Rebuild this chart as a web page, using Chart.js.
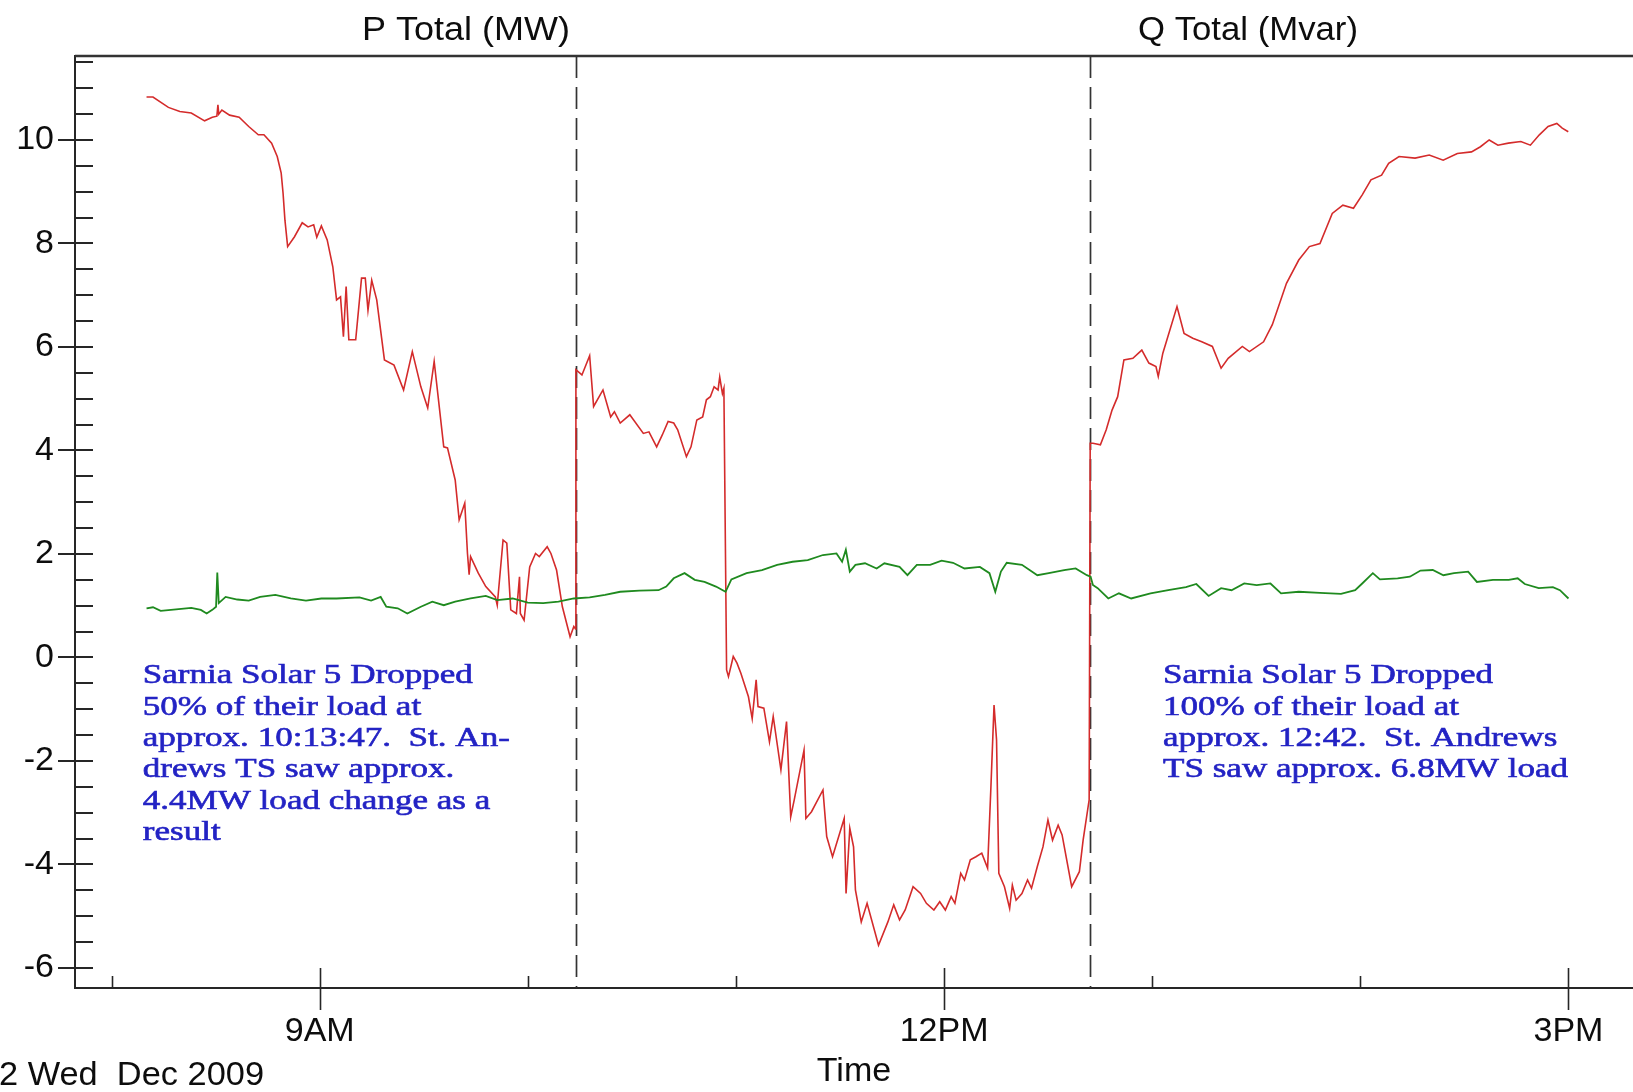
<!DOCTYPE html>
<html>
<head>
<meta charset="utf-8">
<script src="https://cdn.jsdelivr.net/npm/chart.js@4.4.1/dist/chart.umd.min.js"></script>
<style>
html,body{margin:0;padding:0;background:#fff;overflow:hidden}
#wrap{width:1633px;height:1092px;position:relative}
</style>
</head>
<body>
<div id="wrap"><canvas id="c" width="1633" height="1092"></canvas></div>
<script>
// ---------- data (hours of day, values) ----------
const pHours = [8.168,8.199,8.273,8.328,8.383,8.447,8.484,8.506,8.511,8.515,8.530,8.567,8.613,8.659,8.705,8.732,8.769,8.796,8.815,8.824,8.833,8.846,8.879,8.916,8.944,8.971,8.986,9.008,9.036,9.063,9.081,9.100,9.114,9.127,9.140,9.173,9.201,9.219,9.232,9.250,9.274,9.311,9.357,9.403,9.445,9.486,9.519,9.550,9.569,9.596,9.614,9.651,9.670,9.697,9.710,9.718,9.725,9.762,9.798,9.844,9.853,9.881,9.899,9.918,9.945,9.960,9.964,9.982,10.009,10.037,10.055,10.093,10.111,10.138,10.166,10.203,10.221,10.229,10.231,10.260,10.297,10.316,10.361,10.398,10.416,10.444,10.490,10.555,10.582,10.619,10.646,10.674,10.701,10.720,10.762,10.784,10.812,10.840,10.858,10.877,10.895,10.914,10.922,10.935,10.942,10.955,10.964,10.987,11.005,11.024,11.060,11.078,11.097,11.106,11.134,11.161,11.179,11.216,11.243,11.263,11.280,11.327,11.336,11.363,11.418,11.436,11.464,11.520,11.529,11.547,11.565,11.574,11.602,11.630,11.685,11.730,11.758,11.786,11.813,11.851,11.887,11.915,11.951,11.979,12.006,12.034,12.052,12.080,12.098,12.126,12.153,12.181,12.209,12.225,12.240,12.252,12.263,12.290,12.315,12.328,12.346,12.374,12.401,12.420,12.448,12.475,12.499,12.521,12.548,12.567,12.613,12.650,12.668,12.697,12.702,12.715,12.751,12.779,12.807,12.834,12.864,12.907,12.950,12.984,13.018,13.029,13.051,13.119,13.153,13.195,13.238,13.289,13.331,13.365,13.433,13.467,13.535,13.577,13.645,13.704,13.755,13.806,13.865,13.916,13.967,14.009,14.051,14.102,14.136,14.186,14.263,14.331,14.398,14.466,14.534,14.577,14.619,14.661,14.711,14.771,14.817,14.860,14.902,14.944,14.970,14.999];
const pValues = [10.83,10.83,10.63,10.55,10.52,10.37,10.44,10.46,10.68,10.50,10.58,10.48,10.44,10.26,10.10,10.10,9.94,9.68,9.36,8.97,8.45,7.94,8.13,8.40,8.32,8.36,8.12,8.34,8.07,7.55,6.91,6.97,6.20,7.17,6.14,6.14,7.33,7.33,6.71,7.29,6.91,5.75,5.65,5.17,5.91,5.23,4.82,5.72,5.04,4.07,4.05,3.43,2.66,2.98,2.01,1.60,1.95,1.63,1.37,1.17,1.01,2.27,2.21,0.92,0.85,1.56,0.85,0.72,1.75,2.01,1.95,2.14,2.01,1.69,0.98,0.40,0.60,0.55,5.56,5.46,5.83,4.85,5.17,4.65,4.75,4.53,4.69,4.33,4.36,4.07,4.30,4.56,4.53,4.40,3.88,4.07,4.59,4.65,4.98,5.04,5.23,5.17,5.42,5.10,5.20,-0.24,-0.37,0.02,-0.11,-0.31,-0.76,-1.18,-0.43,-0.95,-0.98,-1.63,-1.14,-2.17,-1.24,-3.08,-2.75,-1.79,-3.11,-2.98,-2.56,-3.46,-3.85,-3.11,-4.56,-3.30,-3.66,-4.49,-5.11,-4.75,-5.56,-5.11,-4.78,-5.07,-4.88,-4.43,-4.56,-4.75,-4.88,-4.72,-4.88,-4.62,-4.75,-4.17,-4.30,-3.91,-3.85,-3.78,-4.07,-2.50,-0.92,-1.59,-4.17,-4.43,-4.85,-4.40,-4.69,-4.56,-4.30,-4.46,-4.04,-3.66,-3.14,-3.53,-3.24,-3.43,-4.43,-4.14,-3.53,-2.75,4.14,4.14,4.11,4.40,4.78,5.04,5.75,5.78,5.94,5.69,5.62,5.43,5.88,6.78,6.26,6.17,6.10,6.01,5.59,5.78,6.01,5.91,6.10,6.43,7.23,7.68,7.94,8.00,8.58,8.74,8.68,8.94,9.23,9.32,9.55,9.68,9.65,9.71,9.61,9.74,9.77,9.87,10.00,9.90,9.94,9.97,9.90,10.10,10.26,10.32,10.23,10.16];

const qHours = [8.168,8.199,8.236,8.310,8.383,8.429,8.457,8.484,8.502,8.508,8.515,8.548,8.604,8.659,8.714,8.787,8.861,8.934,9.008,9.081,9.191,9.247,9.293,9.320,9.375,9.421,9.486,9.541,9.596,9.651,9.725,9.798,9.853,9.927,10.000,10.074,10.147,10.221,10.297,10.371,10.444,10.536,10.628,10.665,10.701,10.753,10.802,10.849,10.904,10.950,10.978,11.051,11.125,11.198,11.272,11.345,11.418,11.483,11.510,11.528,11.547,11.574,11.620,11.676,11.713,11.786,11.824,11.869,11.933,11.988,12.043,12.098,12.172,12.218,12.246,12.273,12.301,12.374,12.448,12.503,12.577,12.632,12.686,12.704,12.715,12.738,12.789,12.840,12.899,12.992,13.077,13.162,13.212,13.271,13.331,13.381,13.442,13.502,13.568,13.619,13.704,13.806,13.907,13.975,14.009,14.060,14.094,14.179,14.238,14.289,14.348,14.399,14.450,14.518,14.560,14.637,14.713,14.756,14.790,14.857,14.925,14.959,15.000];
const qValues = [0.95,0.97,0.90,0.93,0.96,0.92,0.85,0.92,0.98,1.64,1.05,1.17,1.12,1.10,1.17,1.21,1.14,1.10,1.14,1.14,1.16,1.10,1.17,0.98,0.95,0.85,0.98,1.08,1.01,1.08,1.14,1.19,1.11,1.14,1.06,1.05,1.08,1.14,1.16,1.21,1.27,1.29,1.30,1.37,1.53,1.63,1.50,1.46,1.37,1.27,1.51,1.63,1.69,1.79,1.85,1.88,1.98,2.01,1.85,2.08,1.66,1.79,1.82,1.72,1.82,1.75,1.59,1.79,1.79,1.87,1.83,1.72,1.75,1.63,1.27,1.66,1.83,1.79,1.59,1.63,1.69,1.72,1.59,1.56,1.40,1.34,1.14,1.24,1.14,1.24,1.30,1.36,1.42,1.19,1.34,1.30,1.43,1.40,1.43,1.24,1.27,1.25,1.23,1.30,1.43,1.63,1.51,1.53,1.56,1.68,1.69,1.59,1.63,1.66,1.46,1.50,1.50,1.53,1.42,1.34,1.36,1.30,1.14];

const eventHours = [10 + 13/60 + 47/3600, 12 + 42/60];   // 10:13:47 and 12:42
const xTickHours = [8, 9, 10, 11, 12, 13, 14, 15];
const xTickLabels = {9: '9AM', 12: '12PM', 15: '3PM'};
const xRange = [7.8243, 15.31];
const yRange = [-6.387, 11.623];
const yMinorStep = 0.5;
const yLabelStep = 2;

const seriesTitles = ['P Total (MW)', 'Q Total (Mvar)'];
const xTitle = 'Time';
const dateText = '2 Wed  Dec 2009';
const noteLeft = ['Sarnia Solar 5 Dropped', '50% of their load at', 'approx. 10:13:47.  St. An-', 'drews TS saw approx.', '4.4MW load change as a', 'result'];
const noteRight = ['Sarnia Solar 5 Dropped', '100% of their load at', 'approx. 12:42.  St. Andrews', 'TS saw approx. 6.8MW load'];

// ---------- chart ----------
const SANS = '"Liberation Sans", Arial, sans-serif';
const SERIF = '"Liberation Serif", "Times New Roman", serif';
const AXIS = '#262626';
const TXT = '#0d0d0d';

const toPts = (hs, vs) => hs.map((h, i) => ({x: h, y: vs[i]}));

function drawText(ctx, text, x, y, font, color, targetW, sxIn, strokeW) {
  ctx.save();
  ctx.font = font; ctx.fillStyle = color; ctx.strokeStyle = color;
  ctx.textAlign = 'left'; ctx.textBaseline = 'alphabetic';
  const sx = sxIn || (targetW ? targetW / ctx.measureText(text).width : 1);
  ctx.translate(x, y); ctx.scale(sx, 1);
  ctx.fillText(text, 0, 0);
  if (strokeW) { ctx.lineWidth = strokeW; ctx.strokeText(text, 0, 0); }
  ctx.restore();
}

const decor = {
  id: 'decor',
  beforeDatasetsDraw(chart) {
    const {ctx, chartArea: a, scales: {x, y}} = chart;
    ctx.save();
    // event dashed lines
    ctx.strokeStyle = '#333'; ctx.lineWidth = 1.7; ctx.setLineDash([22, 9]);
    eventHours.forEach(h => {
      const px = Math.round(x.getPixelForValue(h)) + 0.5;
      ctx.beginPath(); ctx.moveTo(px, a.top); ctx.lineTo(px, a.bottom); ctx.stroke();
    });
    ctx.setLineDash([]);
    // top frame line
    ctx.strokeStyle = '#333'; ctx.lineWidth = 2.5;
    ctx.beginPath(); ctx.moveTo(a.left, a.top); ctx.lineTo(a.right, a.top); ctx.stroke();
    // y tick marks
    ctx.strokeStyle = AXIS; ctx.lineWidth = 2;
    y.ticks.forEach(t => {
      const py = Math.round(y.getPixelForValue(t.value));
      const major = t.label !== '';
      ctx.beginPath();
      ctx.moveTo(a.left - (major ? 17 : 0), py);
      ctx.lineTo(a.left + 18, py);
      ctx.stroke();
    });
    // x tick marks
    ctx.lineWidth = 1.6;
    x.ticks.forEach(t => {
      const px = Math.round(x.getPixelForValue(t.value)) + 0.5;
      const major = t.label !== '';
      ctx.beginPath();
      ctx.moveTo(px, a.bottom - (major ? 20 : 12));
      ctx.lineTo(px, a.bottom + (major ? 22 : 0));
      ctx.stroke();
    });
    ctx.restore();
  },
  afterDraw(chart) {
    const {ctx, scales: {x, y}} = chart;
    // series titles above the plot
    const tFont = '34px ' + SANS;
    drawText(ctx, seriesTitles[0], 362, 40, tFont, TXT, 208);
    drawText(ctx, seriesTitles[1], 1138, 40, tFont, TXT, 220);
    // date at bottom left
    drawText(ctx, dateText, -1, 1085, tFont, TXT, 265);
    // annotations
    const nFont = '27px ' + SERIF;
    ctx.save(); ctx.font = nFont;
    const sx = 330 / ctx.measureText(noteLeft[0]).width;
    ctx.restore();
    const base = y.getPixelForValue(-0.5);
    const lh = 31.3;
    const blue = '#2323c4';
    const xl = x.getPixelForValue(8.15);
    noteLeft.forEach((s, i) => drawText(ctx, s, xl, base + i * lh, nFont, blue, 0, sx, 0.6));
    const xr = x.getPixelForValue(13.052);
    noteRight.forEach((s, i) => drawText(ctx, s, xr, base + i * lh, nFont, blue, 0, sx, 0.6));
  }
};

new Chart(document.getElementById('c'), {
  type: 'line',
  data: {
    datasets: [
      {label: seriesTitles[1], data: toPts(qHours, qValues), borderColor: '#1f8a1f', borderWidth: 1.8, pointRadius: 0, tension: 0},
      {label: seriesTitles[0], data: toPts(pHours, pValues), borderColor: '#d42b2b', borderWidth: 1.6, pointRadius: 0, tension: 0}
    ]
  },
  options: {
    responsive: false,
    animation: false,
    devicePixelRatio: 1,
    layout: {padding: {top: 56, right: 0, left: 0, bottom: 0}},
    plugins: {legend: {display: false}, tooltip: {enabled: false}, title: {display: false}},
    scales: {
      x: {
        type: 'linear', min: xRange[0], max: xRange[1],
        afterBuildTicks: s => { s.ticks = xTickHours.map(v => ({value: v})); },
        afterFit: s => { s.height = 104; },
        ticks: {autoSkip: false, maxRotation: 0, padding: 23, color: TXT,
                font: {family: SANS, size: 34},
                callback: v => xTickLabels[v] || ''},
        grid: {display: false, drawTicks: false},
        border: {display: true, color: AXIS, width: 2},
        title: {display: true, text: xTitle, color: TXT, font: {family: SANS, size: 34}, padding: {top: 0, bottom: 0}}
      },
      y: {
        type: 'linear', min: yRange[0], max: yRange[1],
        afterBuildTicks: s => {
          const t = [];
          for (let v = Math.ceil(yRange[0] / yMinorStep) * yMinorStep; v <= yRange[1] + 1e-9; v += yMinorStep) t.push({value: Math.round(v * 10) / 10});
          s.ticks = t;
        },
        afterFit: s => { s.width = 75; },
        ticks: {autoSkip: false, padding: 21, color: TXT, font: {family: SANS, size: 34},
                callback: v => (Math.abs(v % yLabelStep) < 1e-9 ? String(v) : '')},
        grid: {display: false, drawTicks: false},
        border: {display: true, color: AXIS, width: 2}
      }
    }
  },
  plugins: [decor]
});
</script>
</body>
</html>
